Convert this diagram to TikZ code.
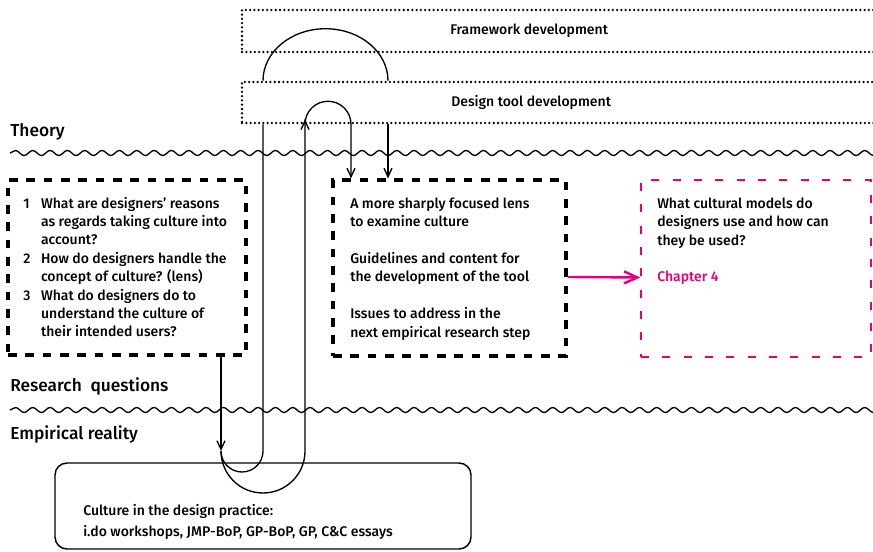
\documentclass[tikz,border=0pt]{standalone}
\usepackage{fontspec}
\IfFontExistsTF{Fira Sans Medium}{\setmainfont{Fira Sans Medium}}{\setmainfont{Fira Sans}[FakeBold=1.5]}
\usetikzlibrary{arrows.meta,decorations.pathmorphing}
\definecolor{chaptermagenta}{RGB}{228,0,124}

\tikzset{
  devbox/.style={rectangle, draw, line width=1.9pt, line cap=round, dash pattern=on 0pt off 3.2pt, minimum width=502.5pt, inner sep=0pt},
  qbox/.style={rectangle, draw, line width=2.4pt, dash pattern=on 6.5pt off 6.5pt, inner sep=0pt},
  chapterbox/.style={rectangle, draw=chaptermagenta, line width=1.1pt, dash pattern=on 6pt off 10pt, inner sep=0pt},
  practicebox/.style={rectangle, draw, rounded corners=9pt, line width=1.1pt, inner sep=0pt},
  link/.style={line width=1pt},
  flow/.style={line width=1pt, -{Straight Barb[length=6.5pt,width=6pt]}},
  chapterflow/.style={draw=chaptermagenta, line width=1.8pt, -{Straight Barb[length=10pt,width=9pt]}},
  wave/.style={line width=1pt, decorate, decoration={snake, amplitude=1.9pt, segment length=13pt}},
  boxtext/.style={anchor=north west, inner sep=0pt, align=left, font=\fontsize{10.5}{13.8}\selectfont},
  layerlabel/.style={anchor=base west, inner sep=0pt, font=\fontsize{13}{15}\selectfont},
}

\begin{document}
\begin{tikzpicture}[x=0.75pt,y=0.75pt,yscale=-1,xscale=1]
\useasboundingbox (0,0) rectangle (873,552);
%Shape: Rectangle [id:framework] 
\node[devbox, minimum height=31.5pt] (framework) at (577,31) {};
%Shape: Rectangle [id:toolbox] 
\node[devbox, minimum height=30.75pt] (toolbox) at (577,102.5) {};
%Shape: Rectangle [id:questions] 
\node[qbox, minimum width=178.5pt, minimum height=131.25pt] (questions) at (127,267.5) {};
%Shape: Rectangle [id:outcomes] 
\node[qbox, minimum width=174.75pt, minimum height=132pt] (outcomes) at (449.5,268) {};
%Shape: Rectangle [id:cultmodels] 
\node[chapterbox, minimum width=172.5pt, minimum height=132.75pt] (cultmodels) at (756,268.5) {};
%Rounded Rect [id:practice] 
\node[practicebox, minimum width=312pt, minimum height=64.5pt] (practice) at (263,506) {};
%Wavy Lines 
\draw[wave] (10,153) -- (880,153);
\draw[wave] (10,410) -- (880,410);
%Connector points 
\coordinate (loopstart) at (221,451);
\coordinate (innerup) at (263,451);
\coordinate (outerup) at (305,451);
\coordinate (archdown) at (351,0);
\coordinate (tooldown) at (388,0);
%Straight Lines [id:questions to practice] 
\draw[flow] (questions.south -| loopstart) -- (loopstart);
%Curve Lines [id:small loop] 
\draw[link] (loopstart) arc[start angle=180, end angle=0, radius=21] -- (innerup |- toolbox.south);
%Curve Lines [id:framework arch] 
\draw[link] (innerup |- toolbox.north) arc[start angle=180, end angle=360, x radius=62.5, y radius=52];
%Straight Lines [id:tool to outcomes] 
\draw[flow] (tooldown |- toolbox.south) -- (tooldown |- outcomes.north);
%Curve Lines [id:big loop] 
\draw[flow] (loopstart) arc[start angle=180, end angle=0, radius=42] -- ([yshift=-3.75pt]outerup |- toolbox.south);
\draw[flow] ([yshift=-3.75pt]outerup |- toolbox.south) -- (outerup |- toolbox.south) arc[start angle=180, end angle=360, radius=23] -- (archdown |- outcomes.north);
%Straight Lines [id:outcomes to chapter] 
\draw[chapterflow] ([yshift=6.75pt]outcomes.east) -- ([yshift=6.75pt]cultmodels.west);
% Text Node
\node[anchor=base west, inner sep=0pt, font=\fontsize{10.5}{13.8}\selectfont] (frameworklabel) at (450,35) {Framework development};
% Text Node
\node[anchor=base west, inner sep=0pt, font=\fontsize{10.5}{13.8}\selectfont] (toollabel) at (451,107) {Design tool development};
% Text Node
\node[layerlabel] (theory) at (10,137) {Theory};
% Text Node
\node[layerlabel] (rqlabel) at (10,391) {Research~~questions};
% Text Node
\node[layerlabel] (empirical) at (10,439) {Empirical reality};
% Text Node
\node[boxtext] (questionstext) at (23,195) {\begin{tabular}{@{}l@{\hspace{8pt}}l@{}}
1 & What are designers’ reasons\\
  & as regards taking culture into\\
  & account?\\
2 & How do designers handle the\\
  & concept of culture? (lens)\\
3 & What do designers do to\\
  & understand the culture of\\
  & their intended users?
\end{tabular}};
% Text Node
\node[boxtext] (outcomestext) at (350,197.5) {A more sharply focused lens\\to examine culture\\[13.8pt]Guidelines and content for\\the development of the tool\\[13.8pt]Issues to address in the\\next empirical research step};
% Text Node
\node[boxtext] (cultmodelstext) at (657,197.5) {What cultural models do\\designers use and how can\\they be used?\\[13.8pt]\textcolor{chaptermagenta}{Chapter 4}};
% Text Node
\node[boxtext] (practicetext) at (83,504.5) {Culture in the design practice:\\[1.5pt]i.do workshops, JMP-BoP, GP-BoP, GP, C\&C essays};
\end{tikzpicture}
\end{document}
